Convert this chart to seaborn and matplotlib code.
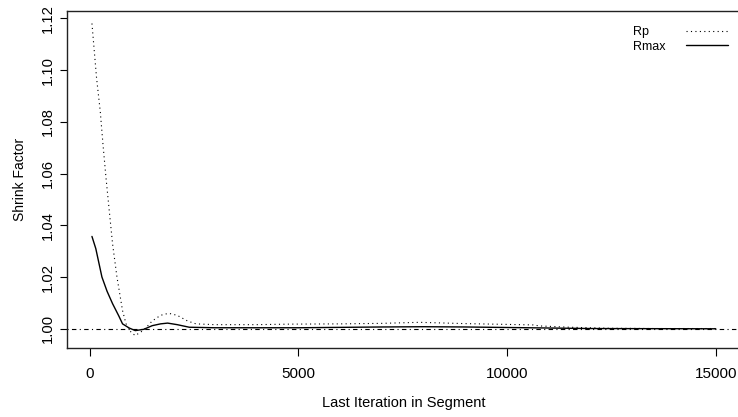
import numpy as np
import pandas as pd
import matplotlib
matplotlib.use("Agg")
import matplotlib.pyplot as plt
from matplotlib.lines import Line2D
import seaborn as sns

# Data
rp_x = [58, 168, 257, 321, 393, 472, 552, 657, 791, 873, 1000, 1096, 1300, 1500, 1700,
        1895, 2100, 2350, 2550, 3000, 4000, 4800, 6000, 7000, 7900, 9000, 9985, 10620,
        10780, 11500, 12460, 13500, 15000]
rp_y = [1.118, 1.097, 1.084, 1.0715, 1.0586, 1.0457, 1.0328, 1.020, 1.007, 1.002, 0.9985,
        0.9974, 0.9995, 1.003, 1.0052, 1.006, 1.0052, 1.003, 1.0019, 1.0016, 1.0016, 1.0018,
        1.0019, 1.0021, 1.0025, 1.002, 1.0017, 1.0015, 1.0011, 1.0006, 1.0002, 1.0001, 1.0001]

rmax_x = [58, 150, 297, 420, 552, 700, 791, 950, 1096, 1300, 1500, 1700, 1870, 2100, 2390,
          3000, 5000, 7000, 8000, 9000, 10000, 11000, 12000, 15000]
rmax_y = [1.0357, 1.031, 1.020, 1.0145, 1.0097, 1.005, 1.0019, 1.0003, 0.9993, 0.9998, 1.0012,
          1.0019, 1.0022, 1.0016, 1.0006, 1.0004, 1.0004, 1.0007, 1.0008, 1.0007, 1.0005,
          1.0003, 1.0001, 1.0000]

series_labels = ["Rp", "Rmax"]
x_ticks = [0, 5000, 10000, 15000]
y_ticks = [1.00, 1.02, 1.04, 1.06, 1.08, 1.10, 1.12]

sns.set_theme(style="white")
plt.rcParams['font.family'] = ['Liberation Sans', 'DejaVu Sans']

fig = plt.figure(figsize=(7.38, 4.17), dpi=100)
W, H = 738, 417
left, right, top, bottom = 67, 740.7, 11, 348
ax = fig.add_axes([left / W, 1 - bottom / H, (right - left) / W, (bottom - top) / H])

df_rp = pd.DataFrame({"x": rp_x, "y": rp_y})
df_rm = pd.DataFrame({"x": rmax_x, "y": rmax_y})

sns.lineplot(data=df_rp, x="x", y="y", ax=ax, color="black", linewidth=0.8, legend=False)
ax.lines[-1].set_dashes((1, 3))
sns.lineplot(data=df_rm, x="x", y="y", ax=ax, color="black", linewidth=1.0, legend=False)

ax.axhline(1.0, color="black", linewidth=0.8, dashes=(1, 3, 4, 3))

xmin, xmax = min(rp_x), max(rp_x)
ymin, ymax = min(rp_y + rmax_y), max(rp_y + rmax_y)
xpad = 0.04 * (xmax - xmin)
ypad = 0.04 * (ymax - ymin)
ax.set_xlim(xmin - xpad, xmax + xpad)
ax.set_ylim(ymin - ypad, ymax + ypad)

ax.set_xticks(x_ticks)
ax.set_xticklabels([str(t) for t in x_ticks], fontsize=11)
ax.set_yticks(y_ticks)
ax.set_yticklabels([f"{t:.2f}" for t in y_ticks], rotation=90, va="center", fontsize=10.6)

ax.tick_params(axis="both", which="both", direction="out", length=5.4, width=0.8,
               color="black", labelcolor="black", bottom=True, left=True)
ax.tick_params(axis="x", pad=8)
ax.tick_params(axis="y", pad=3)

for s in ax.spines.values():
    s.set_visible(True)
    s.set_color("#222222")
    s.set_linewidth(1.0)

ax.set_xlabel("Last Iteration in Segment", fontsize=10.5, color="black", labelpad=11)
ax.set_ylabel("Shrink Factor", fontsize=10, color="black", labelpad=10)

# Legend (R style: label left, line sample right)
def fx(px):
    return px / W

def fy(py):
    return 1 - py / H

fig.text(fx(633), fy(35.5), series_labels[0], fontsize=9, color="black", ha="left", va="baseline")
fig.text(fx(633), fy(49.5), series_labels[1], fontsize=9, color="black", ha="left", va="baseline")
fig.add_artist(Line2D([fx(686), fx(728)], [fy(31), fy(31)], color="black", linewidth=0.8,
                      dashes=(1, 3)))
fig.add_artist(Line2D([fx(686), fx(728)], [fy(45), fy(45)], color="black", linewidth=1.0))

fig.savefig("out.png", dpi=100, facecolor="white")
